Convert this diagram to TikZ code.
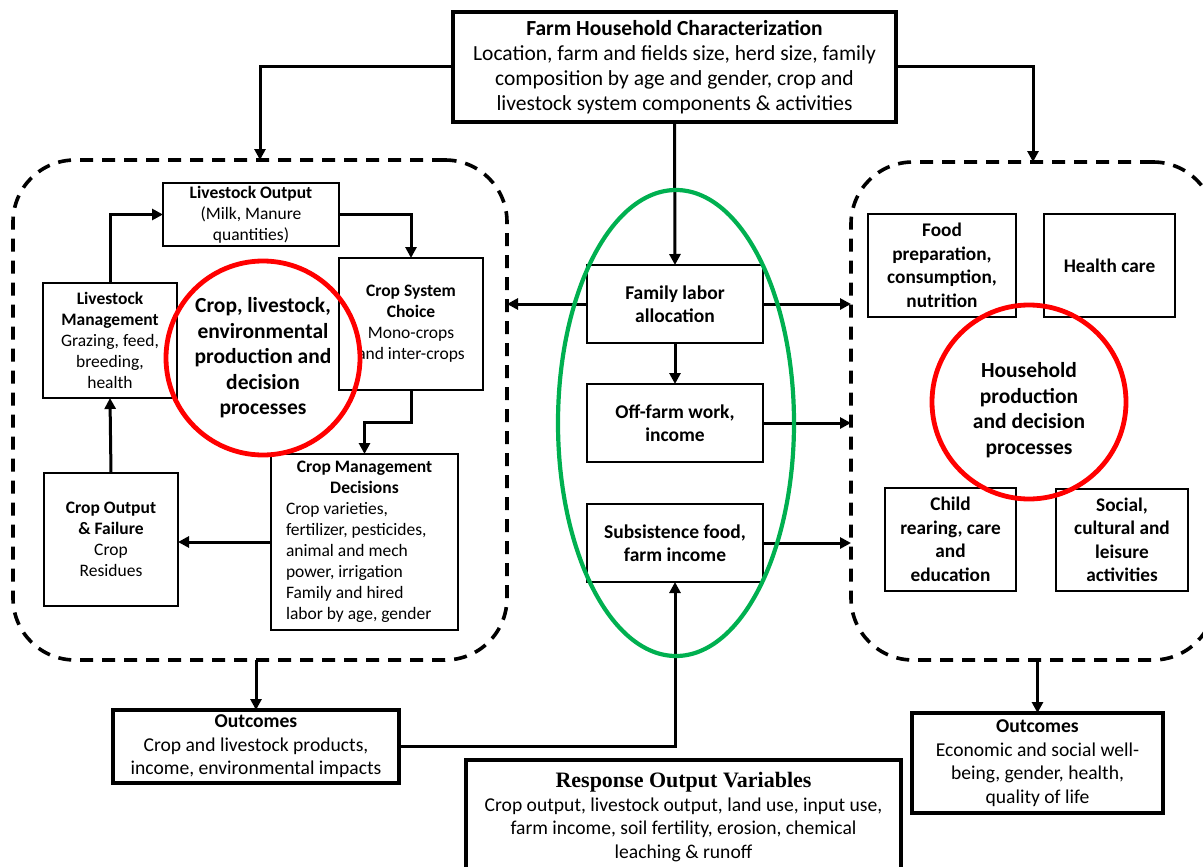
\documentclass[tikz,border=0pt]{standalone}
\usepackage{fontspec}
\setmainfont{Carlito}
\newfontfamily\titleserif{Liberation Serif}
\usetikzlibrary{arrows.meta,shapes.geometric}
\newcommand{\fsz}[2]{\fontsize{#1}{#2}\selectfont}
\definecolor{ringred}{RGB}{255,0,0}
\definecolor{ovalgreen}{RGB}{0,176,80}

\begin{document}
\begin{tikzpicture}[x=1pt,y=-1pt,
  every node/.style={inner sep=0pt, outer sep=0pt, align=center},
  bigbox/.style={draw, line width=3.2pt, fill=white},
  smallbox/.style={draw, line width=1.7pt, fill=white},
  region/.style={draw, line width=3.6pt, dash pattern=on 13pt off 9pt, rounded corners=62pt},
  arr/.style={line width=3pt, -{Triangle[length=11pt,width=11pt]}},
  redring/.style={circle, draw=ringred, line width=4.8pt, minimum size=194pt},
  greenoval/.style={ellipse, draw=ovalgreen, line width=4.2pt, minimum width=236pt, minimum height=466pt},
  topfont/.style={font=\fsz{21.5}{25}},
  leftfont/.style={font=\fsz{17.5}{21}},
  midfont/.style={font=\bfseries\fsz{19.5}{23.5}},
  rightfont/.style={font=\bfseries\fsz{19.3}{23.5}},
  ringfont/.style={font=\bfseries\fsz{21.5}{25.5}},
  outfont/.style={font=\fsz{19.6}{23.5}}
]
\useasboundingbox (0,0) rectangle (1203,867);
\clip (0,0) rectangle (1203,867);

% dashed sub-system regions
\node[region, minimum width=494pt, minimum height=500pt] (leftreg) at (260,410) {};
\node[region, minimum width=364pt, minimum height=498pt] (rightreg) at (1033,411) {};

% household characterization
\node[bigbox, topfont, minimum width=443pt, minimum height=110pt] (top) at (674.5,67)
  {{\bfseries Farm Household Characterization}\\Location, farm and fields size, herd size, family\\composition by age and gender, crop and\\livestock system components \& activities};

% crop-livestock subsystem
\node[smallbox, leftfont, minimum width=176pt, minimum height=63pt] (lo) at (251,214.5)
  {{\bfseries Livestock Output}\\(Milk, Manure\\quantities)};
\node[smallbox, leftfont, minimum width=134pt, minimum height=115pt] (lm) at (110,340.5)
  {{\bfseries Livestock}\\{\bfseries Management}\\Grazing, feed,\\breeding,\\health};
\node[smallbox, leftfont, minimum width=144pt, minimum height=132pt] (csc) at (411,324)
  {{\bfseries Crop System}\\{\bfseries Choice}\\Mono-crops\\and inter-crops};
\node[smallbox, leftfont, minimum width=187pt, minimum height=176pt] (cmd) at (364.5,542)
  {\begin{tabular}{@{}p{157pt}@{}}
   \multicolumn{1}{@{}c@{}}{\bfseries Crop Management}\\
   \multicolumn{1}{@{}c@{}}{\bfseries Decisions}\\
   Crop varieties,\\fertilizer, pesticides,\\animal and mech\\power, irrigation\\Family and hired\\labor by age, gender
   \end{tabular}};
\node[smallbox, leftfont, minimum width=134pt, minimum height=133pt] (cof) at (111,539.5)
  {{\bfseries Crop Output}\\{\bfseries \& Failure}\\Crop\\Residues};

% labour column
\node[smallbox, midfont, minimum width=176pt, minimum height=78pt] (fam) at (675,304) {Family labor\\allocation};
\node[smallbox, midfont, minimum width=176pt, minimum height=78pt] (off) at (675,423) {Off-farm work,\\income};
\node[smallbox, midfont, minimum width=176pt, minimum height=78pt] (sub) at (675,543) {Subsistence food,\\farm income};

% household subsystem
\node[smallbox, rightfont, minimum width=148pt, minimum height=103pt] (food) at (942,265.5) {Food\\preparation,\\consumption,\\nutrition};
\node[smallbox, rightfont, minimum width=131pt, minimum height=103pt] (health) at (1109.5,265.5) {Health care};
\node[smallbox, rightfont, minimum width=131pt, minimum height=103pt] (child) at (950.5,539.5) {Child\\rearing, care\\and\\education};
\node[smallbox, rightfont, minimum width=132pt, minimum height=102pt] (social) at (1122,540) {Social,\\cultural and\\leisure\\activities};

% outcomes and response variables
\node[bigbox, outfont, minimum width=286pt, minimum height=73pt] (outl) at (256,746.5)
  {{\bfseries Outcomes}\\Crop and livestock products,\\income, environmental impacts};
\node[bigbox, outfont, minimum width=251pt, minimum height=100pt] (outr) at (1037.5,763)
  {{\bfseries Outcomes}\\Economic and social well-\\being, gender, health,\\quality of life};
\node[bigbox, minimum width=435pt, minimum height=140pt, anchor=north] (respbox) at (683.5,760) {};
\node[outfont] (resp) at (683.5,817)
  {{\titleserif\bfseries\fsz{22}{23.5}Response Output Variables}\\Crop output, livestock output, land use, input use,\\farm income, soil fertility, erosion, chemical\\leaching \& runoff};

% connectors
\draw[arr] (top.west) -| (leftreg.north);
\draw[arr] (top.east) -| (rightreg.north);
\draw[arr] (top.south) -- (fam.north);
\draw[arr] (fam.west) -- (fam.west -| leftreg.east);
\draw[arr] (fam.east) -- (fam.east -| rightreg.west);
\draw[arr] (fam.south) -- (off.north);
\draw[arr] (off.east) -- (off.east -| rightreg.west);
\draw[arr] (sub.east) -- (sub.east -| rightreg.west);
\draw[arr] (outl.east) -| (sub.south);
\draw[arr] (lm.north) |- (lo.west);
\draw[arr] (lo.east) -| (csc.north);
\draw[arr] (csc.south) -- ++(0,32) -| (cmd.north);
\draw[arr] (cmd.west) -- (cmd.west -| cof.east);
\draw[arr] (cof.north) -- (lm.south);
\draw[arr] (leftreg.south -| outl.north) -- (outl.north);
\draw[arr] (rightreg.south -| outr.north) -- (outr.north);

% highlight rings
\node[redring, ringfont] (ringl) at (263,358) {Crop, livestock,\\environmental\\production and\\decision\\processes};
\node[redring] (ringr) at (1029,402) {};
\node[ringfont] (ringrtext) at (1029,410) {Household\\production\\and decision\\processes};
\node[greenoval] (oval) at (676,423) {};
\end{tikzpicture}
\end{document}
